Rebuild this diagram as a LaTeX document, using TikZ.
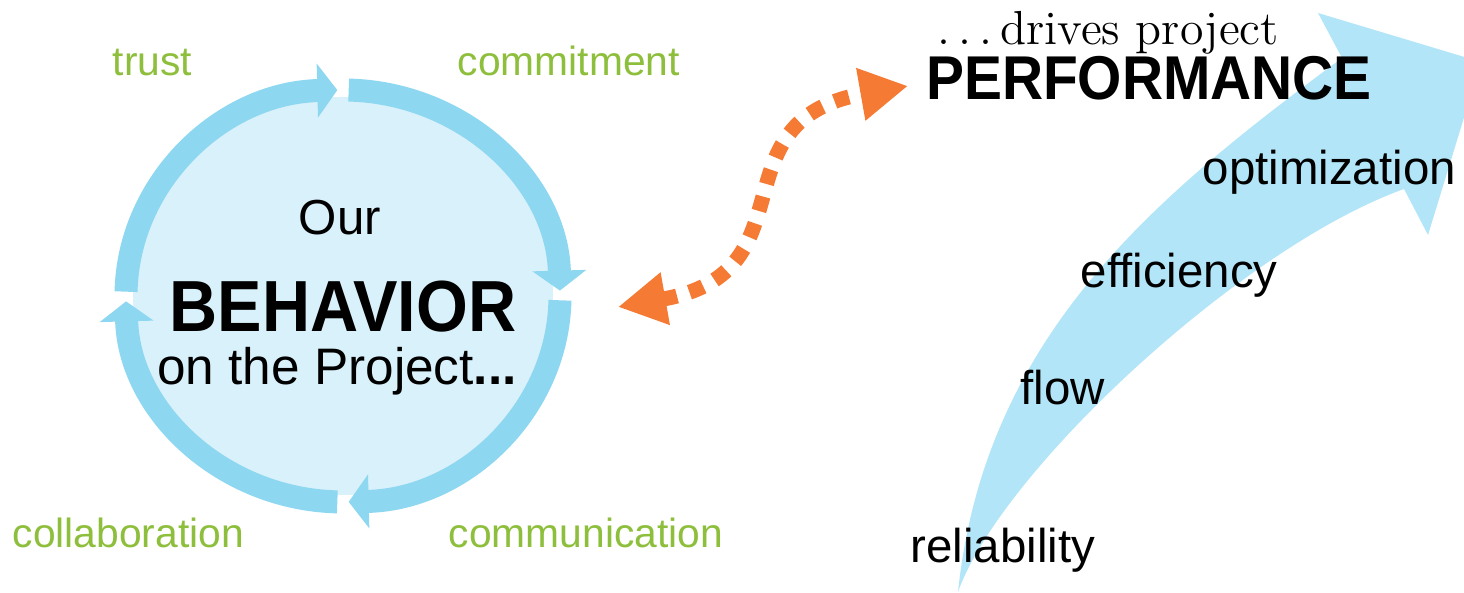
\documentclass[tikz,border=0pt]{standalone}
\usepackage{fontspec}
\usetikzlibrary{arrows.meta}
\newfontfamily\lblfont{Liberation Sans}
\newfontfamily\headfont[FakeStretch=0.92]{Liberation Sans}
\newcommand{\spreaddots}{.\kern.17em.\kern.17em.\kern.17em}
\definecolor{ringblue}{RGB}{141,215,241}
\definecolor{fillblue}{RGB}{217,241,250}
\definecolor{swooshblue}{RGB}{178,229,247}
\definecolor{leafgreen}{RGB}{141,190,60}
\definecolor{linkorange}{RGB}{245,122,52}

\begin{document}
\begin{tikzpicture}[
  ring/.style={ringblue, line width=0.23cm, -{Triangle[width=0.53cm,length=0.2cm]}},
  value/.style={anchor=base west, inner sep=0pt, text=leafgreen, font=\lblfont\fontsize{11.6}{13}\selectfont},
  result/.style={anchor=base west, inner sep=0pt, font=\lblfont\fontsize{13.5}{16}\selectfont},
  title/.style={anchor=base, inner sep=0pt},
  link/.style={linkorange, line width=0.15cm, dash pattern=on 0.15cm off 0.13cm,
    {Triangle[length=0.48cm,width=0.5cm]}-{Triangle[length=0.48cm,width=0.5cm]}}
]
\useasboundingbox (0,0) rectangle (14.64,5.93);
\begin{scope}
\clip (0,0) rectangle (14.64,5.93);
\fill[swooshblue] (9.58,0.01) .. controls (9.85,2.6) and (11.6,4.0) .. (13.42,5.35)
  -- (13.18,5.80) -- (14.81,5.31) -- (14.28,3.58) -- (14.04,4.04)
  .. controls (12.4,3.45) and (10.0,1.2) .. (9.58,0.01) -- cycle;
\end{scope}

\coordinate (hub) at (3.43,2.97);
\fill[fillblue] (hub) ellipse [x radius=2.1, y radius=1.99];
\foreach \s/\e in {178.8/91.5, 88.5/1.5, -1.2/-88.5, -91.5/-178.5}
  \draw[ring, shift={(hub)}] (\s:2.17 and 2.06) arc[start angle=\s, end angle=\e, x radius=2.17, y radius=2.06];

\node[title, font=\lblfont\fontsize{14}{16}\selectfont] (our) at (3.40,3.58) {Our};
\node[title, font=\headfont\bfseries\fontsize{20.6}{24}\selectfont] (behavior) at (3.43,2.61) {BEHAVIOR};
\node[title, font=\lblfont\fontsize{14.6}{17}\selectfont] (onproj) at (3.37,2.08) {on the Project\textbf{...}};

\node[value] (trust) at (1.12,5.17) {trust};
\node[value] (commit) at (4.57,5.17) {commitment};
\node[value] (collab) at (0.12,0.45) {collaboration};
\node[value] (comm) at (4.48,0.45) {communication};

\node[title, font=\fontsize{13.6}{16}\selectfont] (drives) at (11.08,5.48) {\spreaddots drives project};
\node[title, font=\headfont\bfseries\fontsize{17.6}{20}\selectfont] (perf) at (11.49,4.93) {PERFORMANCE};

\node[result] (optim) at (12.02,4.08) {optimization};
\node[result] (effic) at (10.80,3.05) {efficiency};
\node[result] (flow) at (10.20,1.88) {flow};
\node[result] (relia) at (9.10,0.30) {reliability};

\coordinate (behtip) at (6.18,2.86);
\coordinate (perftip) at (9.08,5.07);
\draw[link] (behtip) to[out=10,in=190,looseness=1.4] (perftip);
\end{tikzpicture}
\end{document}
